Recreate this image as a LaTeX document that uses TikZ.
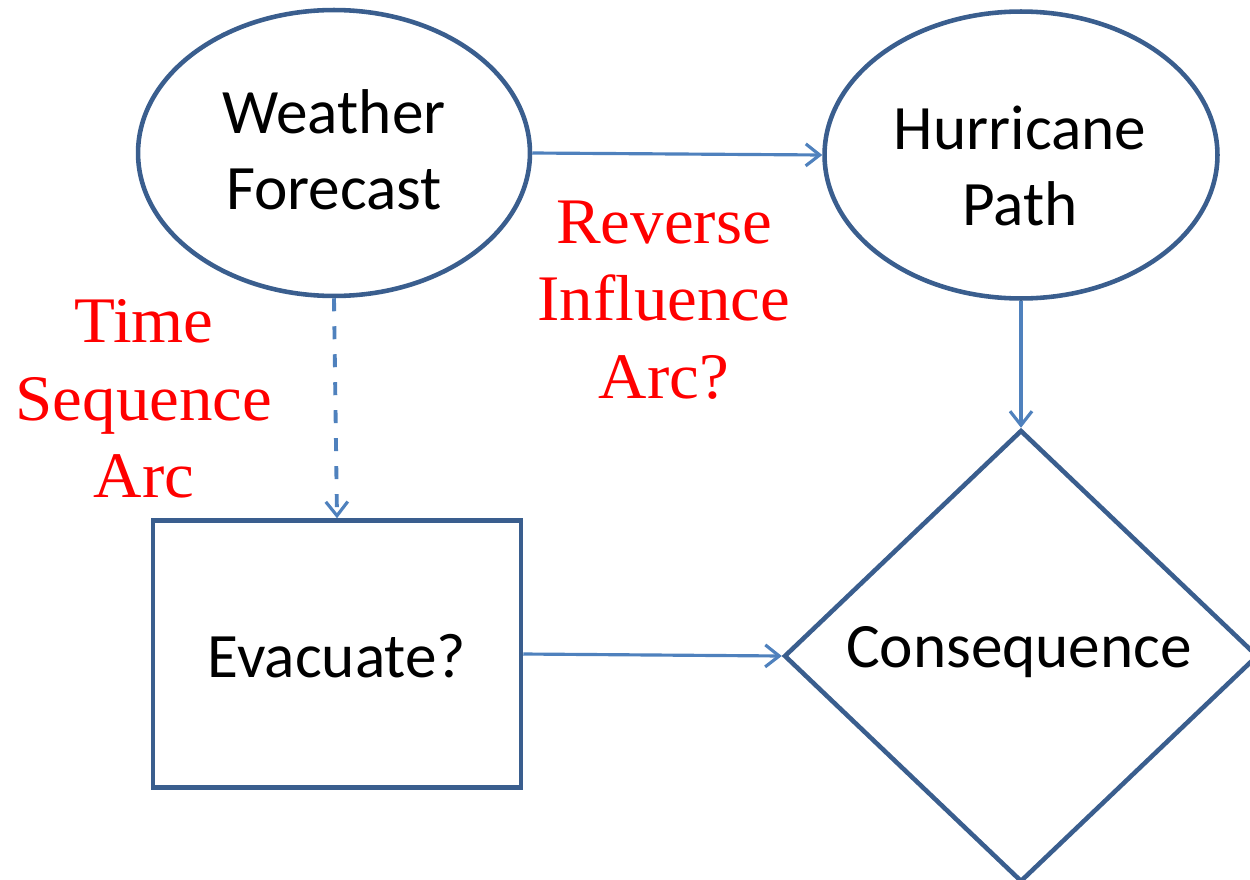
\documentclass[tikz,border=0pt]{standalone}
\usepackage{fontspec}
\setmainfont{Carlito}
\newfontfamily\redfont[FakeStretch=1.03]{Liberation Serif}
\usetikzlibrary{shapes.geometric,arrows.meta}
\definecolor{shapeblue}{RGB}{58,94,142}
\definecolor{arrowblue}{RGB}{79,129,189}
\begin{document}
\begin{tikzpicture}[x=0.02cm,y=-0.02cm,
  shapeline/.style={draw=shapeblue,line width=2.6pt,inner sep=0pt},
  conn/.style={draw=arrowblue,line width=1.8pt,-{Straight Barb[length=0.28cm,width=0.44cm,line width=1.8pt]}},
  blacktext/.style={font=\fontsize{36}{43}\selectfont,align=center,text=black},
  redtext/.style={font=\redfont\fontsize{37}{44}\selectfont,align=center,text=red}]
\useasboundingbox (0,0) rectangle (1250,879);
\node[shapeline,ellipse,minimum width=7.84cm,minimum height=5.72cm] (wf) at (334,153) {};
\node[blacktext] (wft) at (334,150) {Weather\\Forecast};
\node[shapeline,ellipse,minimum width=7.86cm,minimum height=5.74cm] (hp) at (1021,155) {};
\node[blacktext] (hpt) at (1020,166) {Hurricane\\Path};
\node[shapeline,rectangle,minimum width=7.36cm,minimum height=5.34cm] (ev) at (337,654) {};
\node[blacktext] (evt) at (337,656) {Evacuate?};
\node[shapeline,diamond,minimum width=9.48cm,minimum height=9.04cm] (co) at (1021,656) {};
\node[blacktext] (cot) at (1019,652) {Consequence};
\node[redtext] (tsa) at (144,399) {Time\\Sequence\\Arc};
\node[redtext] (ria) at (664,300) {Reverse\\Influence\\Arc?};
\draw[conn] (wf.east) -- (hp.west);
\draw[conn] (hp.south) -- (co.north);
\draw[conn] (ev.east) -- (co.west);
\draw[conn,line width=2.2pt,dash pattern=on 0.26cm off 0.3cm] (wf.south) -- (ev.north);
\end{tikzpicture}
\end{document}
